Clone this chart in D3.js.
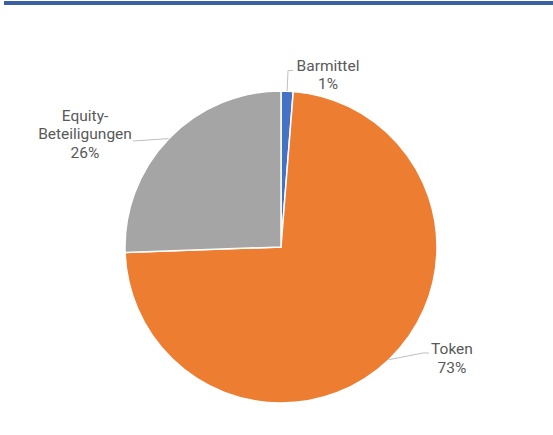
<!DOCTYPE html>
<html>
<head>
<meta charset="utf-8">
<script src="https://cdn.jsdelivr.net/npm/d3@7"></script>
<style>
  body { margin: 0; background: #fff; }
  svg { display: block; }
</style>
</head>
<body>
<div id="chart"></div>
<script>
// slice data, clockwise from 12 o'clock
const labels = ["Barmittel", "Token", "Equity-Beteiligungen"];
const labelLines = [["Barmittel", "1%"], ["Token", "73%"], ["Equity-", "Beteiligungen", "26%"]];
const values = [1.25, 73.2, 25.55];
const colors = ["#4472C4", "#ED7D31", "#A5A5A5"];

const width = 553, height = 435;
const cx = 281, cy = 247, radius = 156;

const svg = d3.select("#chart").append("svg")
    .attr("width", width)
    .attr("height", height);

// blue rule at the top (remains of the page above)
svg.append("rect")
    .attr("x", 4).attr("y", 1)
    .attr("width", width - 4).attr("height", 4)
    .attr("fill", "#3a5fa3");

const g = svg.append("g")
    .attr("transform", "translate(" + cx + "," + cy + ")");

const pie = d3.pie().sort(null).value(d => d);
const arcs = pie(values);

const arc = d3.arc().innerRadius(0).outerRadius(radius);

g.selectAll("path.slice")
    .data(arcs)
    .enter().append("path")
    .attr("class", "slice")
    .attr("d", arc)
    .attr("fill", (d, i) => colors[i])
    .attr("stroke", "#fff")
    .attr("stroke-width", 1.5);

// label layout: knee point and end of leader (relative to centre), text position
const layout = [
    {knee: [7, -176.5], end: [12, -176.5], text: [47, -176.3]},
    {knee: [142, 106], end: [148, 106], text: [171, 107.3]},
    {knee: null, end: [-148, -106], text: [-196, -126.5]}
];

function edgePoint(d) {
    const a = (d.startAngle + d.endAngle) / 2;
    return [radius * Math.sin(a), -radius * Math.cos(a)];
}

g.selectAll("polyline.leader")
    .data(arcs)
    .enter().append("polyline")
    .attr("class", "leader")
    .attr("points", (d, i) => {
        const pts = [edgePoint(d)];
        if (layout[i].knee) pts.push(layout[i].knee);
        pts.push(layout[i].end);
        return pts.map(p => p.join(",")).join(" ");
    })
    .attr("fill", "none")
    .attr("stroke", "#bfbfbf")
    .attr("stroke-width", 1);

const lineHeight = 18.6;

g.selectAll("text.label")
    .data(arcs)
    .enter().append("text")
    .attr("class", "label")
    .attr("x", (d, i) => layout[i].text[0])
    .attr("y", (d, i) => layout[i].text[1])
    .attr("text-anchor", "middle")
    .style("font-family", "Roboto, 'Open Sans', sans-serif")
    .style("font-size", "15.5px")
    .style("fill", "#595959")
    .each(function (d, i) {
        const t = d3.select(this);
        labelLines[i].forEach((line, j) => {
            t.append("tspan")
                .attr("x", layout[i].text[0])
                .attr("dy", j === 0 ? 0 : lineHeight)
                .text(line);
        });
    });
</script>
</body>
</html>
